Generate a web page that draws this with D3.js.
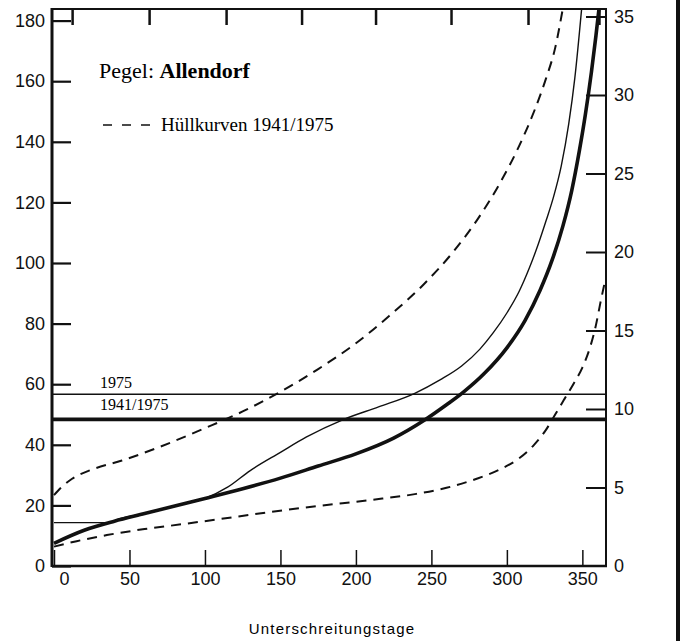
<!DOCTYPE html>
<html>
<head>
<meta charset="utf-8">
<script src="https://cdn.jsdelivr.net/npm/d3@7"></script>
<style>
	body { margin: 0; background: #fff; }
	svg { display: block; }
	.tick text { font-family: "Liberation Sans", Arial, sans-serif; font-size: 18px; fill: #111; }
</style>
</head>
<body>
<div id="chart-area"></div>
<script>
// Dauerlinien Pegel Allendorf (Unterschreitungstage)
const upperHull = [[0,23.4],[5,26],[12,28.8],[25,31.8],[45,34.8],[70,39.3],[100,45.5],[125,51],[150,57.5],[175,65],[200,73.5],[222,82.5],[245,93],[265,104],[280,114],[295,126],[308,138.5],[318,150],[326,161],[332,171],[337,183.8]]
const lowerHull = [[0,6.4],[15,8.2],[35,10.2],[60,12.2],[85,13.8],[110,15.5],[140,17.6],[175,19.8],[210,21.8],[240,23.8],[260,25.8],[280,28.8],[295,31.8],[308,35.5],[318,40],[326,45],[332,50],[338,55],[344,60],[350,65.5],[355,72],[359,79.5],[362,87],[365,94]]
const curve1941_1975 = [[0,7.5],[20,11.8],[40,14.8],[60,17.3],[80,19.8],[100,22.3],[125,25.5],[150,29],[175,33],[200,37],[225,42.2],[245,48],[260,53.2],[271,57.3],[285,63.5],[300,72],[312,81],[322,91],[330,101],[337,112],[343,124],[348,137],[352,149],[356,163],[359,175],[361,183.8]]
const curve1975 = [[0,14.3],[37,14.3],[42,15.3],[60,17.3],[80,19.8],[100,22.3],[115,26],[130,31.5],[150,37.5],[167,42.5],[192,48.4],[215,52.5],[239,57],[256,61.5],[270,66],[282,71.5],[291,77],[300,83.5],[308,90.5],[315,98.5],[321,106.5],[326,114],[331,122],[336,132],[341,146],[345,161],[349.5,183.8]]
const meanLines = [
	{ name: "1975", value: 56.7, width: 1.5 },
	{ name: "1941/1975", value: 48.4, width: 3.6 }
]
const leftTicks = [0,20,40,60,80,100,120,140,160,180]
const rightTicks = [0,5,10,15,20,25,30,35]
const bottomTicks = [0,50,100,150,200,250,300,350]
const topTicks = [12,63,114,164,213,263,314,361]

const W = 688, H = 641
const frame = { left: 52, right: 606, top: 9, bottom: 566 }

const svg = d3.select("#chart-area")
	.append("svg")
		.attr("width", W)
		.attr("height", H)

// scales
const x = d3.scaleLinear().domain([0, 365]).range([54, 605])
const y = d3.scaleLinear().domain([0, 180]).range([frame.bottom, 20.6])
const yR = d3.scaleLinear().domain([0, 35]).range([frame.bottom, 16.5])

svg.append("clipPath").attr("id", "plot-clip")
	.append("rect")
		.attr("x", frame.left)
		.attr("y", frame.top)
		.attr("width", frame.right - frame.left)
		.attr("height", frame.bottom - frame.top)

// axes
const leftAxis = svg.append("g")
	.attr("transform", `translate(${frame.left},0)`)
	.call(d3.axisLeft(y).tickValues(leftTicks).tickSizeInner(-19).tickSizeOuter(0).tickPadding(7))
const rightAxis = svg.append("g")
	.attr("transform", `translate(${frame.right},0)`)
	.call(d3.axisRight(yR).tickValues(rightTicks).tickSizeInner(-20).tickSizeOuter(0).tickPadding(8))
const bottomAxis = svg.append("g")
	.attr("transform", `translate(0,${frame.bottom})`)
	.call(d3.axisBottom(x).tickValues(bottomTicks).tickSizeInner(-16).tickSizeOuter(0).tickPadding(6))
const topAxis = svg.append("g")
	.attr("transform", `translate(0,${frame.top})`)
	.call(d3.axisTop(x).tickValues(topTicks).tickSizeInner(-16).tickSizeOuter(0).tickFormat(""))

svg.selectAll(".domain").remove()
leftAxis.selectAll("line").attr("stroke", "#111").attr("stroke-width", 2.2)
rightAxis.selectAll("line").attr("stroke", "#111").attr("stroke-width", 2)
bottomAxis.selectAll("line").attr("stroke", "#111").attr("stroke-width", 1.5)
topAxis.selectAll("line").attr("stroke", "#111").attr("stroke-width", 2.5)
rightAxis.selectAll(".tick").filter(d => d === 0).select("line").remove()
bottomAxis.selectAll(".tick").filter(d => d === 0).select("text").attr("dx", 10)

// frame
svg.append("line").attr("x1", frame.left).attr("x2", frame.left).attr("y1", frame.top - 1).attr("y2", frame.bottom + 1)
	.attr("stroke", "#111").attr("stroke-width", 3)
svg.append("line").attr("x1", frame.right).attr("x2", frame.right).attr("y1", frame.top - 1).attr("y2", frame.bottom + 1)
	.attr("stroke", "#111").attr("stroke-width", 2)
svg.append("line").attr("x1", frame.left).attr("x2", frame.right + 1).attr("y1", frame.top).attr("y2", frame.top)
	.attr("stroke", "#111").attr("stroke-width", 2)
svg.append("line").attr("x1", frame.left).attr("x2", frame.right + 1).attr("y1", frame.bottom).attr("y2", frame.bottom)
	.attr("stroke", "#111").attr("stroke-width", 2.5)

// curves
const plot = svg.append("g").attr("clip-path", "url(#plot-clip)")
const line = d3.line()
	.x(d => x(d[0]))
	.y(d => y(d[1]))
	.curve(d3.curveMonotoneX)

plot.selectAll(".mean")
	.data(meanLines)
	.enter().append("line")
		.attr("class", "mean")
		.attr("x1", frame.left)
		.attr("x2", frame.right)
		.attr("y1", d => y(d.value))
		.attr("y2", d => y(d.value))
		.attr("stroke", "#111")
		.attr("stroke-width", d => d.width)

const series = [
	{ data: upperHull, width: 2, dash: "10,7" },
	{ data: lowerHull, width: 2, dash: "10,7" },
	{ data: curve1975, width: 1.4, dash: null },
	{ data: curve1941_1975, width: 3.6, dash: null }
]
plot.selectAll(".curve")
	.data(series)
	.enter().append("path")
		.attr("class", "curve")
		.attr("d", d => line(d.data))
		.attr("fill", "none")
		.attr("stroke", "#111")
		.attr("stroke-width", d => d.width)
		.attr("stroke-dasharray", d => d.dash)

// labels on the mean lines
svg.append("text")
	.attr("x", 100).attr("y", 388)
	.attr("font-family", "Liberation Serif, serif").attr("font-size", "16px")
	.text(meanLines[0].name)
svg.append("text")
	.attr("x", 100).attr("y", 410)
	.attr("font-family", "Liberation Serif, serif").attr("font-size", "16px")
	.text(meanLines[1].name)

// title and legend
const title = svg.append("text")
	.attr("x", 99).attr("y", 78)
	.attr("font-family", "Liberation Serif, serif").attr("font-size", "22px")
title.append("tspan").text("Pegel: ")
title.append("tspan").attr("font-weight", "bold").text("Allendorf")

svg.append("line")
	.attr("x1", 103).attr("x2", 150).attr("y1", 125).attr("y2", 125)
	.attr("stroke", "#111").attr("stroke-width", 1.5).attr("stroke-dasharray", "9,10")
svg.append("text")
	.attr("x", 161).attr("y", 131)
	.attr("font-family", "Liberation Serif, serif").attr("font-size", "19px")
	.text("Hüllkurven 1941/1975")

// x title
svg.append("text")
	.attr("x", 332).attr("y", 634)
	.attr("text-anchor", "middle")
	.attr("font-family", "Liberation Sans, Arial, sans-serif").attr("font-size", "15px")
	.attr("letter-spacing", "1.2px")
	.text("Unterschreitungstage")

// scan edge on the right
svg.append("line").attr("x1", 678).attr("x2", 678).attr("y1", 0).attr("y2", H)
	.attr("stroke", "#111").attr("stroke-width", 4)
</script>
</body>
</html>
